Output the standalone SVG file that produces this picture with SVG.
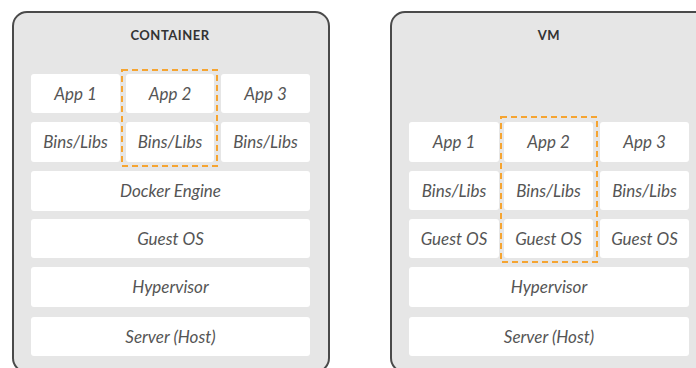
<svg xmlns="http://www.w3.org/2000/svg" width="696" height="368" viewBox="0 0 696 368">
<style>
.panel{fill:#e6e6e6;stroke:#4a4a4a;stroke-width:2}
.box{fill:#ffffff}
.t{font-family:Lato,"Open Sans",sans-serif;font-style:italic;font-size:17px;fill:#555555;text-anchor:middle}
.h{font-family:Lato,"Liberation Sans",sans-serif;font-weight:bold;font-size:13px;fill:#333333;text-anchor:middle;letter-spacing:0.5px}
.hl{fill:none;stroke:#f5a431;stroke-width:2;stroke-dasharray:6 4}
</style>
<rect width="696" height="368" fill="#ffffff"/>
<g id="container">
<rect class="panel" x="13" y="12" width="316" height="360" rx="14"/>
<text class="h" x="170" y="40">CONTAINER</text>
</g>
<g id="c-app1"><rect class="box" x="31" y="74" width="89" height="39" rx="3"/><text class="t" x="75.5" y="100">App 1</text></g>
<g id="c-app2"><rect class="box" x="126" y="74" width="88" height="39" rx="3"/><text class="t" x="170" y="100">App 2</text></g>
<g id="c-app3"><rect class="box" x="221" y="74" width="89" height="39" rx="3"/><text class="t" x="265.5" y="100">App 3</text></g>
<g id="c-bins1"><rect class="box" x="31" y="122" width="89" height="40" rx="3"/><text class="t" x="75.5" y="148">Bins/Libs</text></g>
<g id="c-bins2"><rect class="box" x="126" y="122" width="88" height="40" rx="3"/><text class="t" x="170" y="148">Bins/Libs</text></g>
<g id="c-bins3"><rect class="box" x="221" y="122" width="89" height="40" rx="3"/><text class="t" x="265.5" y="148">Bins/Libs</text></g>
<g id="c-docker"><rect class="box" x="31" y="171" width="279" height="40" rx="3"/><text class="t" x="170.5" y="197">Docker Engine</text></g>
<g id="c-guest"><rect class="box" x="31" y="219" width="279" height="39" rx="3"/><text class="t" x="170.5" y="245">Guest OS</text></g>
<g id="c-hyper"><rect class="box" x="31" y="267" width="279" height="40" rx="3"/><text class="t" x="170.5" y="293">Hypervisor</text></g>
<g id="c-server"><rect class="box" x="31" y="317" width="279" height="39" rx="3"/><text class="t" x="170.5" y="343">Server (Host)</text></g>
<g id="c-highlight"><rect class="hl" x="122" y="70" width="95" height="96"/></g>

<g id="vm">
<rect class="panel" x="391" y="12" width="320" height="360" rx="14"/>
<text class="h" x="549" y="40">VM</text>
</g>
<g id="v-app1"><rect class="box" x="409" y="122" width="90" height="40" rx="3"/><text class="t" x="454" y="148">App 1</text></g>
<g id="v-app2"><rect class="box" x="504" y="122" width="89" height="40" rx="3"/><text class="t" x="548.5" y="148">App 2</text></g>
<g id="v-app3"><rect class="box" x="600" y="122" width="89" height="40" rx="3"/><text class="t" x="644.5" y="148">App 3</text></g>
<g id="v-bins1"><rect class="box" x="409" y="171" width="90" height="39" rx="3"/><text class="t" x="454" y="197">Bins/Libs</text></g>
<g id="v-bins2"><rect class="box" x="504" y="171" width="89" height="39" rx="3"/><text class="t" x="548.5" y="197">Bins/Libs</text></g>
<g id="v-bins3"><rect class="box" x="600" y="171" width="89" height="39" rx="3"/><text class="t" x="644.5" y="197">Bins/Libs</text></g>
<g id="v-guest1"><rect class="box" x="409" y="219" width="90" height="39" rx="3"/><text class="t" x="454" y="245">Guest OS</text></g>
<g id="v-guest2"><rect class="box" x="504" y="219" width="89" height="39" rx="3"/><text class="t" x="548.5" y="245">Guest OS</text></g>
<g id="v-guest3"><rect class="box" x="600" y="219" width="89" height="39" rx="3"/><text class="t" x="644.5" y="245">Guest OS</text></g>
<g id="v-hyper"><rect class="box" x="409" y="267" width="280" height="40" rx="3"/><text class="t" x="549" y="293">Hypervisor</text></g>
<g id="v-server"><rect class="box" x="409" y="317" width="280" height="39" rx="3"/><text class="t" x="549" y="343">Server (Host)</text></g>
<g id="v-highlight"><rect class="hl" x="501" y="117" width="96" height="145"/></g>
<g id="connectors"></g>
</svg>
